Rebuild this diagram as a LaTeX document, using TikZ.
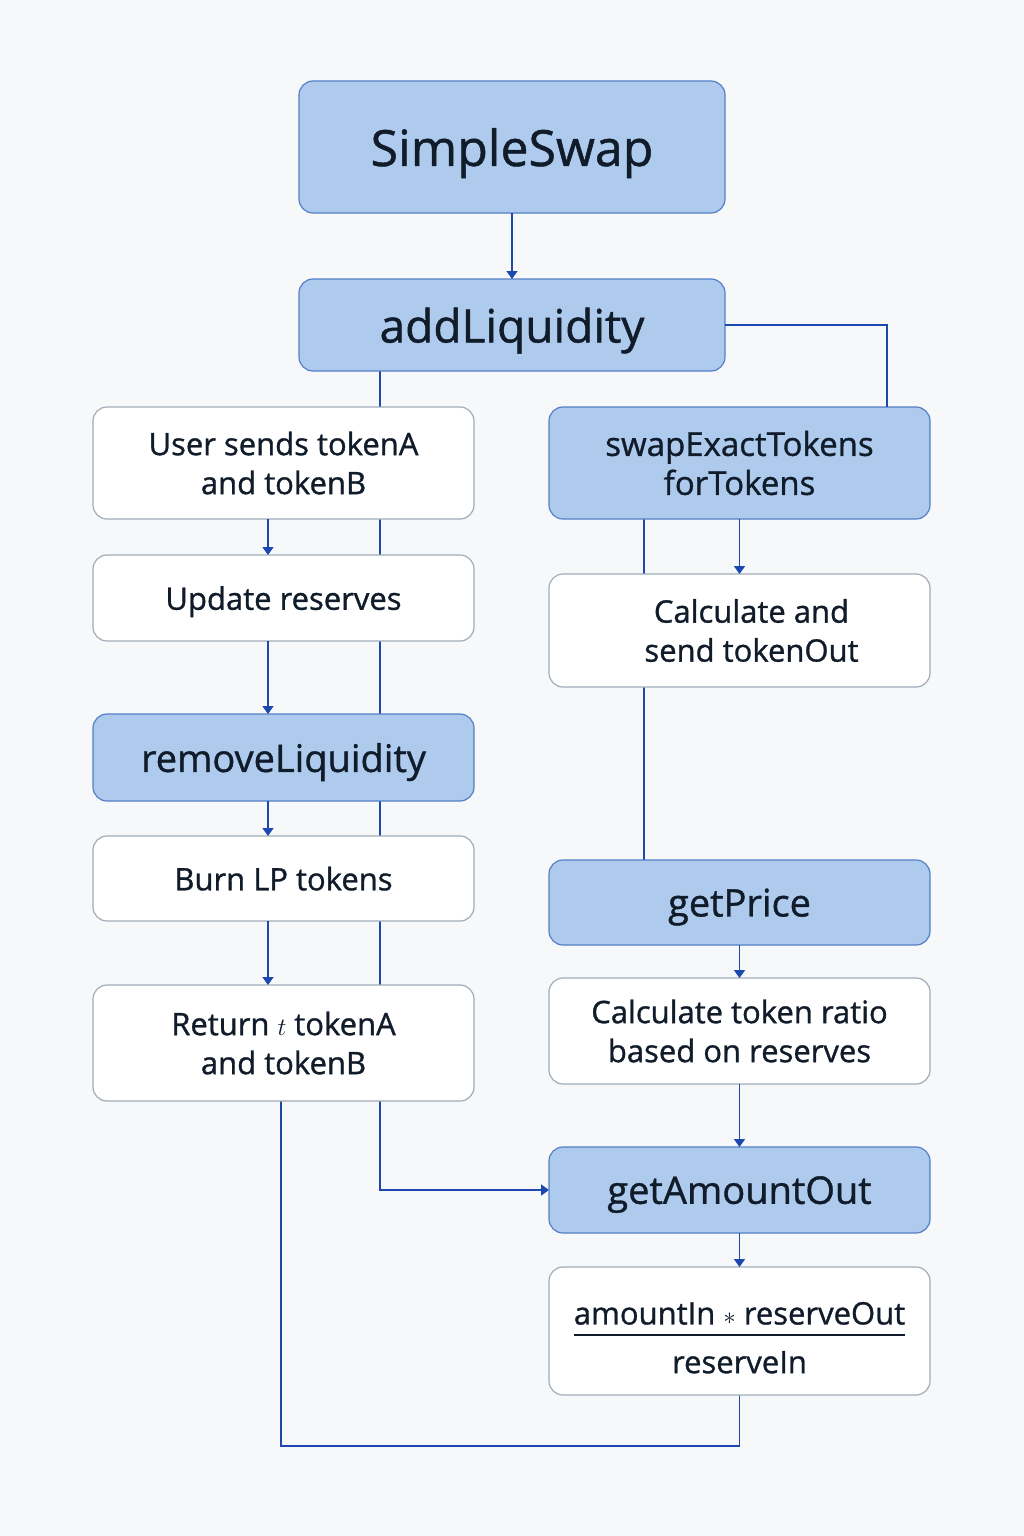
\documentclass[tikz,border=0pt]{standalone}
\usepackage{fontspec}
\setmainfont{Open Sans}[FakeBold=1.0]
\usetikzlibrary{arrows.meta, positioning, backgrounds}

\definecolor{pagebg}{RGB}{247,248,250}
\definecolor{funcfill}{RGB}{174,202,237}
\definecolor{funcedge}{RGB}{84,128,200}
\definecolor{stepedge}{RGB}{160,172,184}
\definecolor{flowblue}{RGB}{29,72,176}
\definecolor{inkdark}{RGB}{17,28,43}

\newcommand{\fsz}[1]{\fontsize{#1}{39}\selectfont}

\begin{document}
\begin{tikzpicture}[
  x=1pt, y=-1pt,
  every node/.style={text=inkdark},
  box/.style={rectangle, rounded corners=14pt, draw, line width=1.2pt,
              minimum width=381pt, inner sep=0pt, outer sep=0pt, align=center},
  func/.style={box, draw=funcedge, fill=funcfill, font=\fsz{38}},
  stepbox/.style={box, draw=stepedge, fill=white, font=\fsz{31}},
  oneline/.style={text depth=0pt},
  flow/.style={draw=flowblue, line width=1.6pt},
  arrow/.style={flow, -{Triangle[width=11pt, length=8pt]}}
]
  % columns used by the connectors
  \coordinate (leftx) at (268,0);
  \coordinate (trunkL) at (380,0);
  \coordinate (trunkR) at (644,0);
  \coordinate (loopx) at (281,0);
  \coordinate (bendx) at (887,0);
  \coordinate (loopy) at (0,1446);

  % top
  \node[func, oneline, minimum width=426pt, minimum height=132pt, font=\fsz{50}] (SS) at (512,147) {SimpleSwap};
  \node[func, oneline, minimum width=426pt, minimum height=92pt, font=\fsz{46}, below=66pt of SS] (AL) {addLiquidity};

  % left column
  \node[stepbox, minimum height=112pt] (US) at (283.5,463) {User sends tokenA\\and tokenB};
  \node[stepbox, oneline, minimum height=86pt, below=36pt of US] (UR) {Update reserves};
  \node[func, oneline, minimum height=87pt, below=73pt of UR] (RL) {removeLiquidity};
  \node[stepbox, oneline, minimum height=85pt, below=35pt of RL] (BL) {Burn LP tokens};
  \node[stepbox, minimum height=116pt, below=64pt of BL] (RT) {Return $t$ tokenA\\and tokenB};

  % right column
  \node[func, minimum height=112pt, font=\fsz{33}] (SX) at (739.5,463) {swapExactTokens\\forTokens};
  \node[stepbox, minimum height=113pt, below=55pt of SX] (CS) {\hspace*{24pt}Calculate and\\\hspace*{24pt}send tokenOut};
  \node[func, oneline, minimum height=85pt, below=173pt of CS] (GP) {getPrice};
  \node[stepbox, minimum height=106pt, below=33pt of GP] (CR) {Calculate token ratio\\based on reserves};
  \node[func, oneline, minimum height=86pt, below=63pt of CR] (GA) {getAmountOut};
  \node[stepbox, minimum height=128pt, below=34pt of GA] (FM)
    {\setlength{\arrayrulewidth}{2pt}%
     \raisebox{-10pt}[\height][\depth]{\begin{tabular}{@{}c@{}}amountIn {\fontsize{42}{39}\selectfont$\ast$} reserveOut\\[-2pt]\hline
     \rule{0pt}{37pt}reserveIn\end{tabular}}};

  % lines running behind the boxes
  \begin{scope}[on background layer]
    \fill[pagebg] (0,0) rectangle (1024,1536);
    \draw[arrow] (AL.south -| trunkL) |- (GA.west);
    \draw[flow] (SX.south -| trunkR) -- (GP.north -| trunkR);
    \draw[flow] (RT.south -| loopx) -- (loopx |- loopy) -| (FM.south);
  \end{scope}

  \draw[flow] (AL.east) -| (SX.north -| bendx);
  \foreach \a/\b in {US/UR, UR/RL, RL/BL, BL/RT}
    \draw[arrow] (\a.south -| leftx) -- (\b.north -| leftx);
  \foreach \a/\b in {SS/AL, SX/CS, GP/CR, CR/GA, GA/FM}
    \draw[arrow] (\a.south) -- (\b.north);
\end{tikzpicture}
\end{document}
